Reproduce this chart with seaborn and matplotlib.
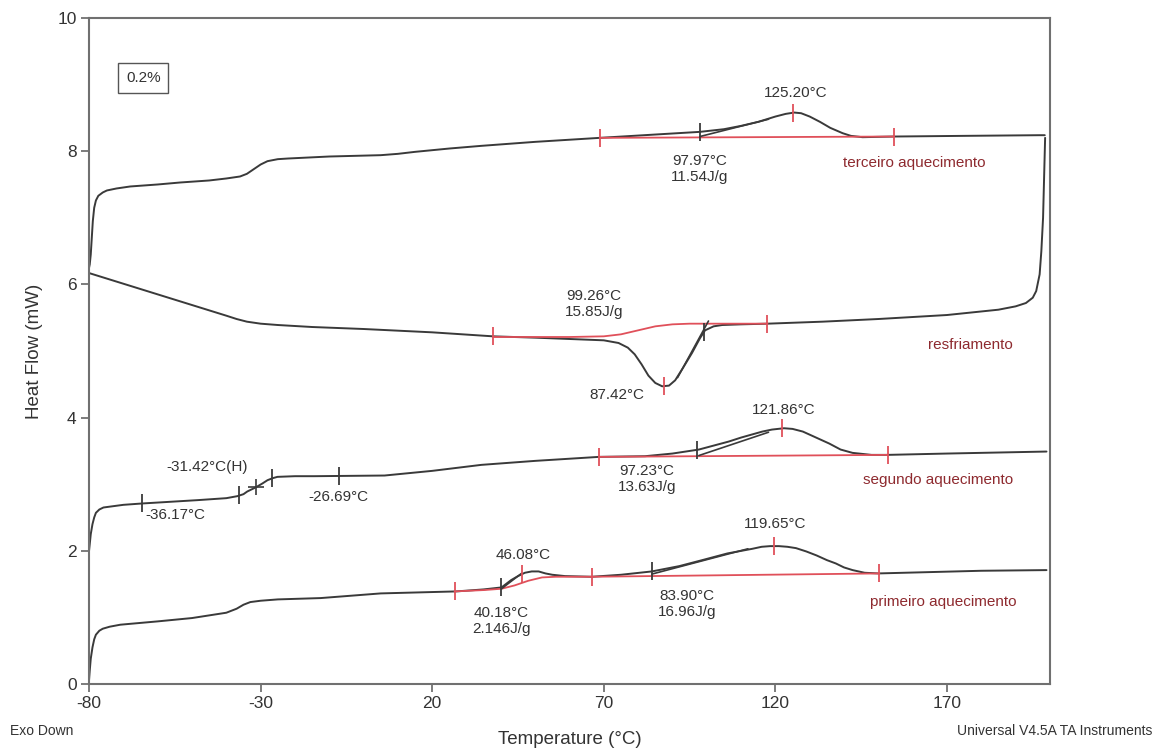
import numpy as np
import pandas as pd
import matplotlib
matplotlib.use('Agg')
import matplotlib.pyplot as plt
import seaborn as sns

# curvas DSC (temperatura em °C, fluxo de calor em mW)
h1_temp = [-80, -79.8, -79.5, -79, -78.5, -78, -77, -76, -74, -70.9, -60, -50, -45, -40, -37, -35, -33,
           -30, -25, -12.5, 5, 27, 35, 40.2, 43, 45, 47, 49, 51, 53, 55, 58.7, 66.5, 75, 84, 92, 98.7,
           106, 113.3, 116, 118.5, 121, 123.5, 126, 129, 132, 135, 137.6, 140, 142.5, 146, 150, 165,
           180, 199]
h1_flow = [0.06, 0.2, 0.38, 0.55, 0.67, 0.74, 0.8, 0.83, 0.86, 0.89, 0.94, 0.99, 1.03, 1.07, 1.13, 1.19,
           1.23, 1.25, 1.27, 1.29, 1.36, 1.39, 1.42, 1.45, 1.56, 1.62, 1.67, 1.69, 1.69, 1.66, 1.64, 1.62,
           1.61, 1.64, 1.69, 1.77, 1.86, 1.96, 2.03, 2.06, 2.07, 2.07, 2.06, 2.04, 1.99, 1.93, 1.86, 1.81,
           1.75, 1.71, 1.67, 1.66, 1.68, 1.70, 1.71]

h2_temp = [-80, -79.8, -79.5, -79, -78.5, -78, -77, -75.8, -70, -64.6, -48.5, -40, -36.8, -35, -33.9,
           -31.5, -29.5, -28, -26.5, -25.1, -20, -14.4, 6.1, 20, 34.3, 50, 68.6, 82, 90, 97.7, 106.4,
           110, 116.2, 119, 122.5, 125, 128, 131, 135.7, 139, 142.5, 148, 152.7, 170, 199]
h2_flow = [2.0, 2.1, 2.25, 2.4, 2.5, 2.57, 2.62, 2.65, 2.69, 2.71, 2.76, 2.79, 2.82, 2.85, 2.89, 2.95,
           3.01, 3.06, 3.09, 3.11, 3.12, 3.12, 3.13, 3.2, 3.29, 3.35, 3.41, 3.42, 3.46, 3.52, 3.64, 3.70,
           3.79, 3.82, 3.84, 3.83, 3.79, 3.72, 3.61, 3.52, 3.47, 3.44, 3.44, 3.46, 3.49]

cool_temp = [-80, -75, -70, -65, -60, -55, -50, -45, -40, -37, -34, -30, -25, -15, 0, 20, 37.7, 50, 65,
             70, 74.3, 77, 79, 81, 83, 85, 87, 89, 90.8, 93, 95.7, 98, 99.5, 102, 104.5, 110, 117.7,
             133.7, 150, 170, 185, 190, 193, 195, 196, 197, 197.5, 198, 198.3, 198.6]
cool_flow = [6.17, 6.09, 6.01, 5.93, 5.85, 5.77, 5.69, 5.61, 5.53, 5.48, 5.44, 5.41, 5.39, 5.36, 5.33,
             5.28, 5.22, 5.2, 5.17, 5.16, 5.12, 5.05, 4.95, 4.8, 4.63, 4.52, 4.47, 4.48, 4.56, 4.74, 4.97,
             5.19, 5.31, 5.37, 5.39, 5.4, 5.41, 5.44, 5.48, 5.54, 5.62, 5.67, 5.72, 5.8, 5.9, 6.15, 6.5,
             7.0, 7.6, 8.2]

h3_temp = [-80, -79.8, -79.5, -79.2, -78.9, -78.5, -78, -77.3, -76, -74.8, -72, -68, -60, -53.4, -45,
           -40, -36, -34, -32, -30, -28, -25, -22, -10, 5, 10, 15, 25, 34.3, 50, 68.8, 85, 98, 105, 110,
           115, 120, 123, 125.5, 127.5, 130, 133, 136, 139.6, 142, 145.4, 154.5, 175, 197, 198.5]
h3_flow = [6.25, 6.3, 6.45, 6.7, 6.95, 7.15, 7.26, 7.33, 7.38, 7.41, 7.44, 7.47, 7.5, 7.53, 7.56, 7.59,
           7.62, 7.66, 7.73, 7.8, 7.85, 7.88, 7.89, 7.92, 7.94, 7.96, 7.99, 8.04, 8.08, 8.14, 8.2, 8.25,
           8.29, 8.33, 8.38, 8.44, 8.52, 8.56, 8.58, 8.57, 8.52, 8.44, 8.35, 8.27, 8.23, 8.21, 8.22,
           8.23, 8.24, 8.24]

# linhas de base (vermelho)
h3_base_temp = [68.8, 154.5]
h3_base_flow = [8.2, 8.22]
cool_base_temp = [37.7, 60, 70, 75, 80, 85, 90, 95, 100, 117.7]
cool_base_flow = [5.21, 5.21, 5.22, 5.25, 5.31, 5.37, 5.40, 5.41, 5.41, 5.41]
h2_base_temp = [68.6, 152.7]
h2_base_flow = [3.41, 3.44]
h1_base1_temp = [26.5, 35, 40.2, 44, 48, 52, 56, 66.5]
h1_base1_flow = [1.39, 1.41, 1.43, 1.48, 1.55, 1.6, 1.61, 1.61]
h1_base2_temp = [66.5, 150.3]
h1_base2_flow = [1.61, 1.66]

# tangentes (preto)
tangents = [
    ([98, 118], [8.22, 8.48]),
    ([100.5, 91.5], [5.45, 4.6]),
    ([97.7, 118], [3.43, 3.78]),
    ([84, 112], [1.65, 2.03]),
    ([40.2, 46], [1.43, 1.66]),
]

# temperaturas dos marcadores
h3_red_marks = [68.8, 125.2, 154.5]
h3_black_marks = [97.97]
cool_red_marks = [37.7, 87.42, 117.7]
cool_black_marks = [99.26]
h2_red_marks = [68.6, 121.86, 152.7]
h2_black_marks = [-64.6, -36.17, -26.69, -7.2, 97.23]
h2_cross_marks = [-31.42]
h1_red_marks = [26.5, 46.08, 66.5, 119.65, 150.3]
h1_black_marks = [40.18, 83.90]

sns.set_style('white')
plt.rcParams['font.family'] = ['Liberation Sans', 'DejaVu Sans']
plt.rcParams['axes.unicode_minus'] = False

CURVE = '#3a3a3a'
RED = '#e0505a'
LABEL_RED = '#8e2a2f'
TEXT = '#333333'

fig = plt.figure(figsize=(11.64, 7.49), dpi=100)
ax = fig.add_axes([0.0765, 0.0868, 0.902 - 0.0765, 0.976 - 0.0868])

curves = [(h1_temp, h1_flow), (h2_temp, h2_flow), (cool_temp, cool_flow), (h3_temp, h3_flow)]
for t, f in curves:
    df = pd.DataFrame({'T': t, 'HF': f})
    sns.lineplot(data=df, x='T', y='HF', sort=False, estimator=None, color=CURVE, lw=1.4, ax=ax)

bases = [(h3_base_temp, h3_base_flow), (cool_base_temp, cool_base_flow), (h2_base_temp, h2_base_flow),
         (h1_base1_temp, h1_base1_flow), (h1_base2_temp, h1_base2_flow)]
for t, f in bases:
    ax.plot(t, f, color=RED, lw=1.3)

for t, f in tangents:
    ax.plot(t, f, color=CURVE, lw=1.2)

marks = [
    (h3_temp, h3_flow, h3_red_marks, RED),
    (h3_temp, h3_flow, h3_black_marks, CURVE),
    (cool_temp, cool_flow, cool_red_marks, RED),
    (cool_temp, cool_flow, cool_black_marks, CURVE),
    (h2_temp, h2_flow, h2_red_marks, RED),
    (h2_temp, h2_flow, h2_black_marks, CURVE),
    (h1_temp, h1_flow, h1_red_marks, RED),
    (h1_temp, h1_flow, h1_black_marks, CURVE),
]
for t, f, m, c in marks:
    ax.plot(m, np.interp(m, t, f), ls='none', marker='|', ms=13, mew=1.3, color=c)
ax.plot(h2_cross_marks, np.interp(h2_cross_marks, h2_temp, h2_flow), ls='none', marker='+',
        ms=12, mew=1.2, color=CURVE)

# anotações
fs = 11
ax.text(-64.2, 9.1, '0.2%', fontsize=fs, color=TEXT, ha='center', va='center',
        bbox=dict(boxstyle='square,pad=0.5', fc='white', ec='#555555', lw=1.0))
ax.text(125.8, 8.87, '125.20°C', fontsize=fs, color=TEXT, ha='center', va='center')
ax.text(97.8, 7.73, '97.97°C\n11.54J/g', fontsize=fs, color=TEXT, ha='center', va='center', linespacing=1.2)
ax.text(160.6, 7.82, 'terceiro aquecimento', fontsize=fs, color=LABEL_RED, ha='center', va='center')
ax.text(67.1, 5.71, '99.26°C\n15.85J/g', fontsize=fs, color=TEXT, ha='center', va='center', linespacing=1.2)
ax.text(73.8, 4.34, '87.42°C', fontsize=fs, color=TEXT, ha='center', va='center')
ax.text(176.7, 5.09, 'resfriamento', fontsize=fs, color=LABEL_RED, ha='center', va='center')
ax.text(122.5, 4.11, '121.86°C', fontsize=fs, color=TEXT, ha='center', va='center')
ax.text(82.6, 3.08, '97.23°C\n13.63J/g', fontsize=fs, color=TEXT, ha='center', va='center', linespacing=1.2)
ax.text(167.4, 3.06, 'segundo aquecimento', fontsize=fs, color=LABEL_RED, ha='center', va='center')
ax.text(-45.5, 3.26, '-31.42°C(H)', fontsize=fs, color=TEXT, ha='center', va='center')
ax.text(-54.9, 2.54, '-36.17°C', fontsize=fs, color=TEXT, ha='center', va='center')
ax.text(-7.2, 2.81, '-26.69°C', fontsize=fs, color=TEXT, ha='center', va='center')
ax.text(46.5, 1.94, '46.08°C', fontsize=fs, color=TEXT, ha='center', va='center')
ax.text(40.2, 0.95, '40.18°C\n2.146J/g', fontsize=fs, color=TEXT, ha='center', va='center', linespacing=1.2)
ax.text(94.3, 1.2, '83.90°C\n16.96J/g', fontsize=fs, color=TEXT, ha='center', va='center', linespacing=1.2)
ax.text(120, 2.4, '119.65°C', fontsize=fs, color=TEXT, ha='center', va='center')
ax.text(168.8, 1.23, 'primeiro aquecimento', fontsize=fs, color=LABEL_RED, ha='center', va='center')

# eixos
ax.set_xlim(-80, 200)
ax.set_ylim(0, 10)
ax.set_xticks([-80, -30, 20, 70, 120, 170])
ax.set_xticks(np.arange(-80, 200, 12.5), minor=True)
ax.set_yticks([0, 2, 4, 6, 8, 10])
ax.set_yticks(np.arange(0, 10.01, 0.5), minor=True)
ax.tick_params(which='both', direction='out', colors='#666666', labelcolor=TEXT, labelsize=12.5, pad=3)
ax.tick_params(which='major', length=6, width=1.2)
ax.tick_params(which='minor', length=4, width=1.0)
ax.tick_params(left=True, bottom=True)
for s in ax.spines.values():
    s.set_color('#707070')
    s.set_linewidth(1.5)
ax.set_xlabel('Temperature (°C)', fontsize=13.5, color=TEXT, labelpad=14)
ax.set_ylabel('Heat Flow (mW)', fontsize=13.5, color=TEXT, labelpad=10)

fig.text(10 / 1164, 1 - 731 / 749, 'Exo Down', fontsize=10, color=TEXT, ha='left', va='center')
fig.text(1152 / 1164, 1 - 731 / 749, 'Universal V4.5A TA Instruments', fontsize=10, color=TEXT,
         ha='right', va='center')

fig.savefig('out.png', dpi=100)
